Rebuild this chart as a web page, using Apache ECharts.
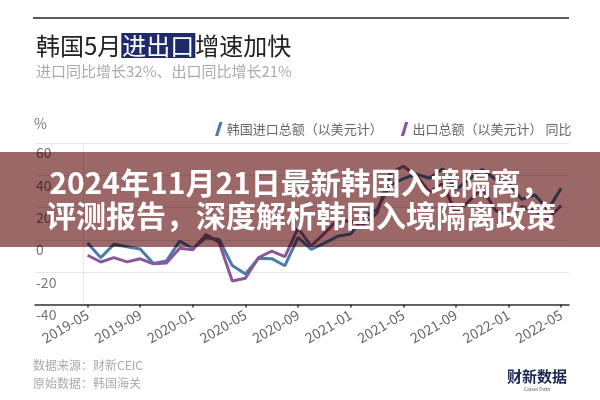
<!DOCTYPE html>
<html>
<head>
<meta charset="utf-8">
<script src="https://cdn.jsdelivr.net/npm/echarts@6/dist/echarts.min.js"></script>
<style>html,body{margin:0;padding:0;background:#fff}#c{width:600px;height:400px}</style>
</head>
<body>
<div id="c"></div>
<script>
var months = ['2019-05','2019-06','2019-07','2019-08','2019-09','2019-10','2019-11','2019-12',
  '2020-01','2020-02','2020-03','2020-04','2020-05','2020-06','2020-07','2020-08','2020-09','2020-10','2020-11','2020-12',
  '2021-01','2021-02','2021-03','2021-04','2021-05','2021-06','2021-07','2021-08','2021-09','2021-10','2021-11','2021-12',
  '2022-01','2022-02','2022-03','2022-04','2022-05'];
var importYoY = [-1.9,-11.0,-2.7,-4.2,-5.6,-14.6,-13.0,-0.7,-5.3,1.4,0.3,-15.9,-21.1,-11.4,-11.6,-16.0,1.6,-5.8,-2.0,2.2,3.6,14.1,18.8,33.9,37.9,40.7,38.2,44.0,31.0,37.8,43.6,37.6,35.5,25.1,27.9,18.6,32.0];
var exportYoY = [-9.5,-13.7,-11.0,-13.6,-11.7,-14.8,-14.3,-5.2,-6.1,3.3,-1.6,-25.5,-23.7,-10.9,-7.0,-10.3,7.3,-3.8,4.0,12.4,11.4,9.5,16.6,41.1,45.6,39.7,29.6,34.9,16.7,24.0,32.1,18.3,15.2,20.6,18.2,12.9,21.3];
var tickIdx = [0,4,8,12,16,20,24,28,32,36];
var yTicks = [-40,-20,0,20,40,60];
var seriesNames = ['韩国进口总额（以美元计）','出口总额（以美元计） 同比'];

var FONT = '"Noto Sans CJK SC","Noto Sans",sans-serif';
var chart = echarts.init(document.getElementById('c'));
var slashIcon = 'path://M4,14 L8,1 L11,1 L7,14 Z';
chart.setOption({
  animation: false,
  textStyle: {fontFamily: FONT},
  title: {
    text: '韩国5月{h|进出口}增速加快',
    subtext: '进口同比增长32%、出口同比增长21%',
    left: 31, top: 28, itemGap: 6,
    textStyle: {fontSize: 24, fontWeight: 'normal', color: '#222', fontFamily: FONT,
      rich: {h: {fontSize: 24, color: '#fff', backgroundColor: '#1e2a6a', padding: [1, 1, 0, 1], fontFamily: FONT}}},
    subtextStyle: {fontSize: 15, color: '#aaa', fontFamily: FONT}
  },
  legend: {
    left: 210, top: 117, itemWidth: 10, itemHeight: 14, itemGap: 18,
    icon: slashIcon,
    textStyle: {fontSize: 13, color: '#666', fontFamily: FONT, padding: [0,0,0,-2]},
    data: seriesNames
  },
  grid: {left: 35, right: 31, top: 143, bottom: 95.5, containLabel: false},
  xAxis: {
    type: 'value', min: -4, max: 36.6, interval: 4,
    axisLine: {show: true, onZero: false, lineStyle: {color: '#333', width: 1.5}},
    axisTick: {show: true, length: 3, customValues: tickIdx, lineStyle: {color: '#333', width: 1.5}},
    splitLine: {show: false},
    axisLabel: {customValues: tickIdx, rotate: 30, margin: 9, fontSize: 14, color: '#666', fontFamily: FONT,
      formatter: function (v) { return months[v] || ''; }}
  },
  yAxis: [{
    type: 'value', min: -40, max: 60, interval: 20,
    axisLine: {show: false}, axisTick: {show: false},
    splitLine: {show: true, lineStyle: {color: '#e6e6e6', width: 1}},
    axisLabel: {inside: true, margin: 1, verticalAlign: 'top', padding: [3, 0, 0, 0], fontSize: 14, color: '#777', fontFamily: FONT,
      customValues: yTicks}
  }, {
    type: 'value', min: -40, max: 60, interval: 20, position: 'left', offset: -48,
    axisLine: {show: true, lineStyle: {color: '#e8e8e8', width: 1}},
    axisTick: {show: false}, axisLabel: {show: false}, splitLine: {show: false}
  }],
  series: [{
    name: seriesNames[0], type: 'line', showSymbol: false, symbol: 'none',
    lineStyle: {width: 3, color: '#4b7bab'}, itemStyle: {color: '#4b7bab'},
    data: months.map(function (m, i) { return [i, importYoY[i]]; })
  }, {
    name: seriesNames[1], type: 'line', showSymbol: false, symbol: 'none',
    lineStyle: {width: 3, color: '#88589a'}, itemStyle: {color: '#88589a'},
    data: months.map(function (m, i) { return [i, exportYoY[i]]; })
  }],
  graphic: [
    {type: 'line', z: 100, shape: {x1: 33, y1: 18, x2: 569, y2: 18}, style: {stroke: '#222', lineWidth: 1.5}},
    {type: 'text', z: 100, left: 34, top: 117, style: {text: '%', fontSize: 14, fill: '#777', fontFamily: FONT}},
    {type: 'rect', z: 200, shape: {x: 0, y: 152, width: 600, height: 95}, style: {fill: '#9b6767', blend: 'multiply'}},
    {type: 'text', z: 210, x: 300, y: 183, style: {text: '2024年11月21日最新韩国入境隔离，', fontSize: 30, fontWeight: 'bold', fill: '#fff', align: 'center', verticalAlign: 'middle', fontFamily: FONT}},
    {type: 'text', z: 210, x: 301, y: 216, style: {text: '评测报告，深度解析韩国入境隔离政策', fontSize: 30, fontWeight: 'bold', fill: '#fff', align: 'center', verticalAlign: 'middle', fontFamily: FONT}},
    {type: 'text', z: 100, x: 33, y: 365, style: {text: '数据来源：财新CEIC', fontSize: 12, fill: '#aaa', verticalAlign: 'middle', fontFamily: FONT}},
    {type: 'text', z: 100, x: 33, y: 383, style: {text: '原始数据：韩国海关', fontSize: 12, fill: '#aaa', verticalAlign: 'middle', fontFamily: FONT}},
    {type: 'text', z: 100, x: 537, y: 376, style: {text: '财新数据', fontSize: 15, fontWeight: 'bold', fill: '#1c2553', align: 'center', verticalAlign: 'middle', fontFamily: FONT}},
    {type: 'text', z: 100, x: 537, y: 389, style: {text: 'Caixin Data', fontSize: 5, fill: '#555', align: 'center', verticalAlign: 'middle', fontFamily: FONT}}
  ]
});
</script>
</body>
</html>
